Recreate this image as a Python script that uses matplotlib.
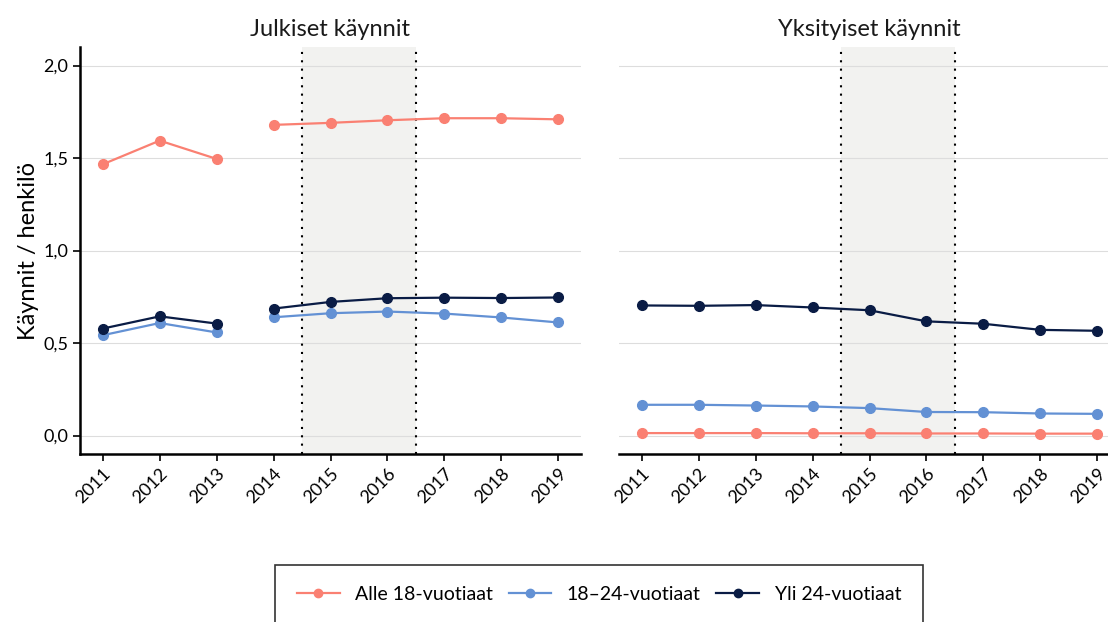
import numpy as np
from matplotlib import pyplot as plt
from matplotlib.lines import Line2D

plt.rcParams['font.family'] = ['Lato', 'DejaVu Sans']

years = [2011, 2012, 2013, 2014, 2015, 2016, 2017, 2018, 2019]
groups = ['Alle 18-vuotiaat', '18–24-vuotiaat', 'Yli 24-vuotiaat']
colors = ['#FA8072', '#6391D4', '#0A1C45']
panel_titles = ['Julkiset käynnit', 'Yksityiset käynnit']

# julkiset (public) visits per person, break in series between 2013 and 2014
julk_alle18 = [1.466, 1.594, 1.495, 1.679, 1.690, 1.704, 1.715, 1.715, 1.709]
julk_18_24 = [0.542, 0.608, 0.557, 0.639, 0.661, 0.670, 0.659, 0.638, 0.611]
julk_yli24 = [0.578, 0.644, 0.605, 0.686, 0.722, 0.742, 0.745, 0.743, 0.746]

# yksityiset (private) visits per person
yks_alle18 = [0.013, 0.013, 0.013, 0.012, 0.012, 0.011, 0.011, 0.010, 0.010]
yks_18_24 = [0.166, 0.166, 0.162, 0.157, 0.148, 0.127, 0.126, 0.119, 0.117]
yks_yli24 = [0.703, 0.701, 0.705, 0.692, 0.677, 0.617, 0.604, 0.571, 0.566]

yticks = [0.0, 0.5, 1.0, 1.5, 2.0]
ytick_labels = ['0,0', '0,5', '1,0', '1,5', '2,0']
shade = (2014.5, 2016.5)

fig = plt.figure(figsize=(11.08, 6.22), dpi=100)
W, H = 1108, 622
ax1 = fig.add_axes([80 / W, 1 - 454 / H, 501 / W, 407 / H])
ax2 = fig.add_axes([619 / W, 1 - 454 / H, 501 / W, 407 / H])

data = [[julk_alle18, julk_18_24, julk_yli24],
        [yks_alle18, yks_18_24, yks_yli24]]

for i, ax in enumerate([ax1, ax2]):
    ax.set_xlim(2010.6, 2019.4)
    ax.set_ylim(-0.1, 2.1)
    ax.axvspan(shade[0], shade[1], color='#F2F2F0', zorder=0, lw=0)
    for yv in yticks:
        ax.axhline(yv, color='#DDDDDD', lw=0.8, zorder=1)
    for xv in shade:
        ax.axvline(xv, color='black', ls=(0, (1, 3)), lw=1.5, zorder=2)
    for vals, c in zip(data[i], colors):
        if i == 0:
            # broken series: 2011-2013 and 2014-2019
            ax.plot(years[:3], vals[:3], color=c, lw=1.6, marker='o', ms=7, zorder=3)
            ax.plot(years[3:], vals[3:], color=c, lw=1.6, marker='o', ms=7, zorder=3)
        else:
            ax.plot(years, vals, color=c, lw=1.6, marker='o', ms=7, zorder=3)
    ax.set_xticks(years)
    ax.set_xticklabels([str(y) for y in years], rotation=45, ha='right',
                       rotation_mode='anchor', fontsize=13)
    ax.tick_params(axis='x', length=5, width=1.2, pad=3)
    ax.set_yticks(yticks)
    for s in ['top', 'right']:
        ax.spines[s].set_visible(False)
    ax.spines['bottom'].set_linewidth(1.8)
    ax.spines['left'].set_linewidth(1.8)
    ax.set_title(panel_titles[i], fontsize=17, pad=8, color='#1a1a1a')

ax1.set_yticklabels(ytick_labels, fontsize=13)
ax1.tick_params(axis='y', length=5, width=1.2)
ax1.set_ylabel('Käynnit / henkilö', fontsize=17, labelpad=3)
ax2.spines['left'].set_visible(False)
ax2.tick_params(axis='y', length=0, labelleft=False)

handles = [Line2D([0], [0], color=c, lw=1.6, marker='o', ms=6) for c in colors]
leg = fig.legend(handles, groups, loc='upper center',
                 bbox_to_anchor=(599 / W, 1 - 555 / H), ncol=3, fontsize=14,
                 frameon=True, fancybox=False, edgecolor='black',
                 borderpad=1.1, handlelength=2.2, columnspacing=0.8,
                 handletextpad=0.8)
leg.get_frame().set_linewidth(1.2)

fig.savefig('out.png', dpi=100)
